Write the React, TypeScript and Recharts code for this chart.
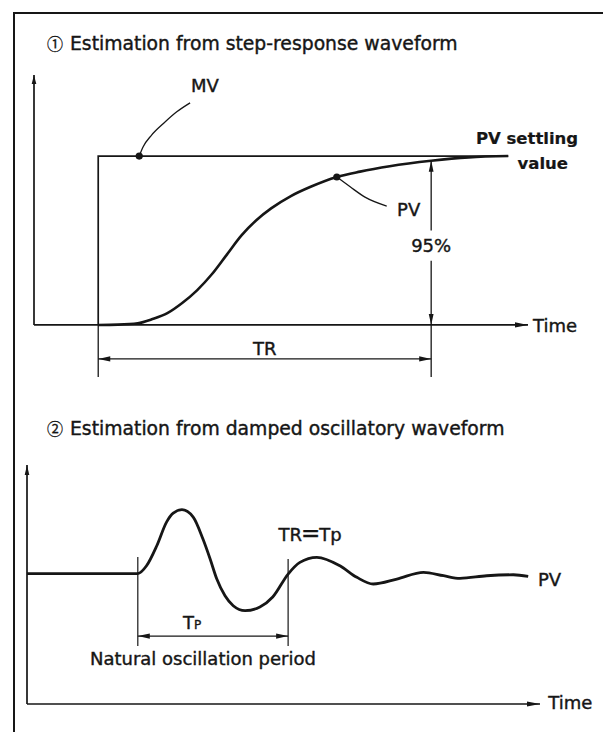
import React from 'react';
import { LineChart, Line, XAxis, YAxis, ReferenceLine, ReferenceDot } from 'recharts';

// ---------- data: step response ----------
const stepTime = [13, 17, 21, 24, 27, 30, 33, 36, 39, 42, 45, 48, 52, 56, 61.3, 66, 72, 80.4, 88, 96];
const stepPV = [0, 0.002, 0.01, 0.035, 0.07, 0.13, 0.205, 0.3, 0.415, 0.53, 0.62, 0.69, 0.763, 0.818, 0.876, 0.908, 0.94, 0.972, 0.992, 1.0];
const mvTime = [13, 13, 96];
const mvValue = [0, 1, 1];
const mvLeaderTime = [21.3, 22.1, 23.8, 26.2, 28.9, 31.6];
const mvLeaderValue = [1.0, 1.055, 1.124, 1.193, 1.262, 1.315];
const pvLeaderTime = [61.3, 64.0, 67.0, 71.4];
const pvLeaderValue = [0.876, 0.818, 0.757, 0.704];
const stepStart = 13;
const ninetyFiveTime = 80.4;
const ninetyFiveValue = 0.972;

// ---------- data: damped oscillation ----------
const oscTime = [0, 21.6, 23.3, 25.3, 27.2, 28.5, 30.2, 32.4, 34.3, 35.7, 37.0, 38.6, 40.2, 42.5, 45.4, 47.9, 50.9, 53.2, 56.5, 61.0, 64.3, 67.5, 72.1, 77.3, 81.2, 84.4, 89.6, 94.8, 97.7];
const oscPV = [0, 0, 0.078, 0.279, 0.517, 0.607, 0.641, 0.567, 0.346, 0.146, -0.055, -0.223, -0.323, -0.373, -0.336, -0.236, -0.005, 0.112, 0.163, 0.078, -0.038, -0.105, -0.055, 0.012, -0.022, -0.048, -0.022, -0.012, -0.028];
const tpStart = 21.6;
const tpEnd = 50.9;

const titles = ['Estimation from step-response waveform', 'Estimation from damped oscillatory waveform'];
const titleMarks = ['\u2460', '\u2461'];

const INK = '#161616';
const FONT = '"DejaVu Sans", "Liberation Sans", sans-serif';
const CJK = '"Noto Sans CJK JP", "Noto Sans CJK SC", sans-serif';

const toRows = (ts: number[], vs: number[]) => ts.map((t, i) => ({ t, v: vs[i] }));
const stepRows = toRows(stepTime, stepPV);
const mvRows = toRows(mvTime, mvValue);
const mvLeaderRows = toRows(mvLeaderTime, mvLeaderValue);
const pvLeaderRows = toRows(pvLeaderTime, pvLeaderValue);
const oscRows = toRows(oscTime, oscPV);

type ArrowOpts = { start?: boolean; end?: boolean; sw?: number; len?: number; hw?: number };
function arrowShape(o: ArrowOpts) {
  return (p: any) => {
    const { x1, y1, x2, y2 } = p;
    const dx = x2 - x1;
    const dy = y2 - y1;
    const L = Math.hypot(dx, dy) || 1;
    const ux = dx / L;
    const uy = dy / L;
    const nx = -uy;
    const ny = ux;
    const len = o.len ?? 10;
    const hw = o.hw ?? 2.4;
    const head = (tx: number, ty: number, ax: number, ay: number) =>
      `${tx},${ty} ${tx - ax * len + nx * hw},${ty - ay * len + ny * hw} ${tx - ax * len - nx * hw},${ty - ay * len - ny * hw}`;
    return (
      <g>
        <line x1={x1} y1={y1} x2={x2} y2={y2} stroke={INK} strokeWidth={o.sw ?? 1.5} />
        {o.end && <polygon points={head(x2, y2, ux, uy)} fill={INK} />}
        {o.start && <polygon points={head(x1, y1, -ux, -uy)} fill={INK} />}
      </g>
    );
  };
}

function textShape(content: React.ReactNode, anchor: 'start' | 'middle' | 'end' = 'start', size = 18, weight: any = 'normal') {
  return (p: any) => (
    <text
      x={p.cx}
      y={p.cy}
      textAnchor={anchor}
      fontSize={size}
      fontWeight={weight}
      fontFamily={FONT}
      fill={INK}
      stroke={INK}
      strokeWidth={weight === 'bold' ? 0.2 : 0.4}
    >
      {content}
    </text>
  );
}

function dotShape(p: any) {
  return <circle cx={p.cx} cy={p.cy} r={3.6} fill={INK} />;
}

function StepChart() {
  return (
    <LineChart width={603} height={400} margin={{ top: 75, right: 75, bottom: 21, left: 34 }}>
      <XAxis type="number" dataKey="t" domain={[0, 100]} hide allowDataOverflow />
      <YAxis type="number" dataKey="v" domain={[-0.32, 1.48]} hide allowDataOverflow />
      {/* axes */}
      <ReferenceLine ifOverflow="visible" segment={[{ x: 0, y: 0 }, { x: 0, y: 1.48 }]} shape={arrowShape({ end: true, sw: 1.7, len: 9, hw: 2.3 })} />
      <ReferenceLine ifOverflow="visible" segment={[{ x: 0, y: 0 }, { x: 100, y: 0 }]} shape={arrowShape({ end: true, sw: 1.7, len: 13, hw: 2.6 })} />
      {/* 95% arrow */}
      <ReferenceLine ifOverflow="visible" segment={[{ x: ninetyFiveTime, y: 0.56 }, { x: ninetyFiveTime, y: ninetyFiveValue }]} shape={arrowShape({ end: true, sw: 1.3, len: 11, hw: 2.4 })} />
      <ReferenceLine ifOverflow="visible" segment={[{ x: ninetyFiveTime, y: 0.38 }, { x: ninetyFiveTime, y: 0 }]} shape={arrowShape({ end: true, sw: 1.3, len: 11, hw: 2.4 })} />
      {/* TR dimension */}
      <ReferenceLine ifOverflow="visible" segment={[{ x: stepStart, y: 0 }, { x: stepStart, y: -0.308 }]} shape={arrowShape({ sw: 1.3 })} />
      <ReferenceLine ifOverflow="visible" segment={[{ x: ninetyFiveTime, y: 0 }, { x: ninetyFiveTime, y: -0.308 }]} shape={arrowShape({ sw: 1.3 })} />
      <ReferenceLine ifOverflow="visible" segment={[{ x: stepStart, y: -0.201 }, { x: ninetyFiveTime, y: -0.201 }]} shape={arrowShape({ start: true, end: true, sw: 1.3, len: 12, hw: 2.6 })} />
      <Line data={mvRows} dataKey="v" type="linear" stroke={INK} strokeWidth={1.7} dot={false} activeDot={false} isAnimationActive={false} />
      <Line data={stepRows} dataKey="v" type="monotone" stroke={INK} strokeWidth={2.6} dot={false} activeDot={false} isAnimationActive={false} />
      <Line data={mvLeaderRows} dataKey="v" type="monotone" stroke={INK} strokeWidth={1.3} dot={false} activeDot={false} isAnimationActive={false} />
      <Line data={pvLeaderRows} dataKey="v" type="monotone" stroke={INK} strokeWidth={1.3} dot={false} activeDot={false} isAnimationActive={false} />
      <ReferenceDot ifOverflow="visible" x={mvLeaderTime[0]} y={mvLeaderValue[0]} shape={dotShape} />
      <ReferenceDot ifOverflow="visible" x={pvLeaderTime[0]} y={pvLeaderValue[0]} shape={dotShape} />
      {/* labels (baseline positions) */}
      <ReferenceDot ifOverflow="visible" x={34.6} y={1.38} shape={textShape('MV', 'middle')} />
      <ReferenceDot ifOverflow="visible" x={99.8} y={1.071} shape={textShape('PV settling', 'middle', 16.5, 'bold')} />
      <ReferenceDot ifOverflow="visible" x={103} y={0.923} shape={textShape('value', 'middle', 16.5, 'bold')} />
      <ReferenceDot ifOverflow="visible" x={73.5} y={0.645} shape={textShape('PV', 'start')} />
      <ReferenceDot ifOverflow="visible" x={ninetyFiveTime} y={0.432} shape={textShape('95%', 'middle')} />
      <ReferenceDot ifOverflow="visible" x={46.7} y={-0.178} shape={textShape('TR', 'middle')} />
      <ReferenceDot ifOverflow="visible" x={101} y={-0.041} shape={textShape('Time', 'start')} />
    </LineChart>
  );
}

function OscChart() {
  return (
    <LineChart width={603} height={332} margin={{ top: 65, right: 63, bottom: 28, left: 27 }}>
      <XAxis type="number" dataKey="t" domain={[0, 100]} hide allowDataOverflow />
      <YAxis type="number" dataKey="v" domain={[-1.31, 1.09]} hide allowDataOverflow />
      <ReferenceLine ifOverflow="visible" segment={[{ x: 0, y: -1.31 }, { x: 0, y: 1.09 }]} shape={arrowShape({ end: true, sw: 1.7, len: 10, hw: 2.3 })} />
      <ReferenceLine ifOverflow="visible" segment={[{ x: 0, y: -1.31 }, { x: 100, y: -1.31 }]} shape={arrowShape({ end: true, sw: 1.7, len: 13, hw: 2.6 })} />
      <ReferenceLine ifOverflow="visible" segment={[{ x: tpStart, y: 0.166 }, { x: tpStart, y: -0.728 }]} shape={arrowShape({ sw: 1.2 })} />
      <ReferenceLine ifOverflow="visible" segment={[{ x: tpEnd, y: 0.146 }, { x: tpEnd, y: -0.728 }]} shape={arrowShape({ sw: 1.2 })} />
      <ReferenceLine ifOverflow="visible" segment={[{ x: tpStart, y: -0.628 }, { x: tpEnd, y: -0.628 }]} shape={arrowShape({ start: true, end: true, sw: 1.3, len: 12, hw: 2.6 })} />
      <Line data={oscRows} dataKey="v" type="monotone" stroke={INK} strokeWidth={2.8} dot={false} activeDot={false} isAnimationActive={false} />
      <ReferenceDot
        ifOverflow="visible"
        x={55.2}
        y={0.326}
        shape={textShape(
          <>
            TR<tspan fontSize={23} dx={-1}>=</tspan>
            <tspan dx={-1}>Tp</tspan>
          </>,
          'middle'
        )}
      />
      <ReferenceDot
        ifOverflow="visible"
        x={30.4}
        y={-0.557}
        shape={textShape(
          <>
            T<tspan fontSize={12}>P</tspan>
          </>,
          'start'
        )}
      />
      <ReferenceDot ifOverflow="visible" x={34.3} y={-0.919} shape={textShape('Natural oscillation period', 'middle')} />
      <ReferenceDot ifOverflow="visible" x={99.6} y={-0.126} shape={textShape('PV', 'start')} />
      <ReferenceDot ifOverflow="visible" x={101.6} y={-1.357} shape={textShape('Time', 'start')} />
    </LineChart>
  );
}

function Titles() {
  const baselines = [50, 435];
  return (
    <svg width={603} height={732} style={{ position: 'absolute', left: 0, top: 0, pointerEvents: 'none' }}>
      {titles.map((t, i) => (
        <g key={t}>
          <text x={47} y={baselines[i]} fontFamily={CJK} fontSize={16} fill={INK} stroke={INK} strokeWidth={0.3}>
            {titleMarks[i]}
          </text>
          <text x={70} y={baselines[i]} fontFamily={FONT} fontSize={18.8} fill={INK} stroke={INK} strokeWidth={0.4}>
            {t}
          </text>
        </g>
      ))}
    </svg>
  );
}

export default function App() {
  return (
    <div style={{ position: 'absolute', left: 0, top: 0, width: 603, height: 732, background: '#fff', overflow: 'hidden' }}>
      <div style={{ position: 'absolute', left: 13, top: 12, width: 600, height: 730, borderLeft: `2px solid ${INK}`, borderTop: `2px solid ${INK}` }} />
      <Titles />
      <div style={{ position: 'absolute', left: 0, top: 0 }}>
        <StepChart />
      </div>
      <div style={{ position: 'absolute', left: 0, top: 400 }}>
        <OscChart />
      </div>
    </div>
  );
}
